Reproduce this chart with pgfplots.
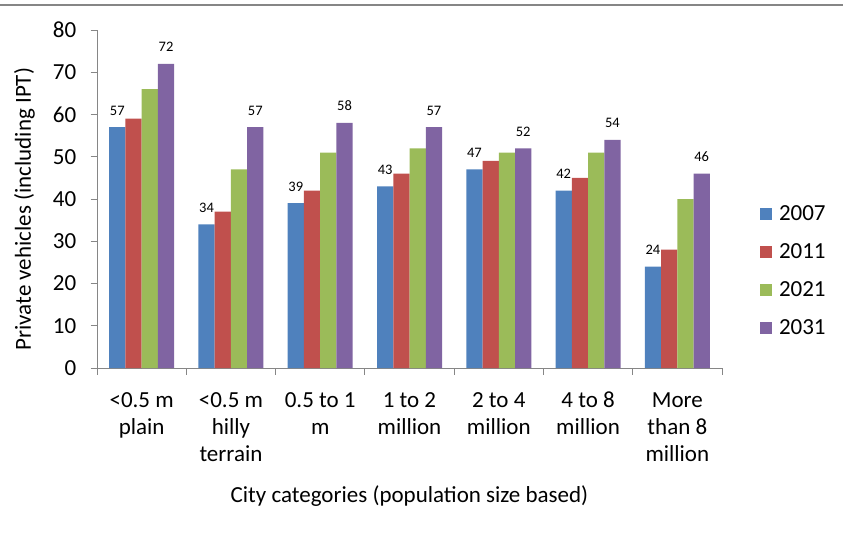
\documentclass[border=0pt]{standalone}
\usepackage{fontspec}
\setmainfont{Carlito}
\usepackage{pgfplots}
\usepackage{pgfplotstable}
\pgfplotsset{compat=1.18}

\definecolor{s07}{HTML}{4F81BD}
\definecolor{s11}{HTML}{C0504D}
\definecolor{s21}{HTML}{9BBB59}
\definecolor{s31}{HTML}{8064A2}
\definecolor{axisgray}{HTML}{868686}

\newcommand{\lblfont}{\fontsize{23}{27.3}\selectfont}
\newcommand{\valfont}{\fontsize{14.5}{17}\selectfont}

% Private vehicles (including IPT) by city category
\pgfplotstableread{
x y07 y11 y21 y31
0 57 59 66 72
1 34 37 47 57
2 39 42 51 58
3 43 46 52 57
4 47 49 51 52
5 42 45 51 54
6 24 28 40 46
}\vehicles

\pgfplotsset{
  /pgf/number format/assume math mode=true,
  sq legend/.style={legend image code/.code={\fill[##1] (0pt,-6pt) rectangle (12pt,6pt);}},
  vallabels/.style={nodes near coords,
    every node near coord/.append style={font=\valfont, anchor=base, yshift=12pt, inner sep=0pt, text=black}},
}

\begin{document}
\begin{tikzpicture}
\path[use as bounding box] (0,0) rectangle (843pt,533pt);
\draw[axisgray, line width=2.5pt] (0,528pt) -- (843pt,528pt);
\begin{axis}[
  at={(97pt,165pt)}, anchor=south west,
  scale only axis, width=625pt, height=338pt,
  ybar=0pt, bar width=16.25pt,
  xmin=-0.5, xmax=6.5, ymin=0, ymax=80,
  xtick={-0.5,0.5,...,6.5}, x tick label as interval,
  xticklabels={{\strut<0.5 m\\plain},{\strut<0.5 m\\hilly\\terrain},{\strut0.5 to 1\\m},{\strut1 to 2\\million},{\strut2 to 4\\million},{\strut4 to 8\\million},{\strut More\\than 8\\million}},
  ytick={0,10,...,80},
  axis x line*=bottom, axis y line*=left,
  axis line style={axisgray, line width=0.9pt},
  tick style={axisgray, line width=0.9pt},
  tick align=outside, major tick length=6.5pt,
  xticklabel style={font=\lblfont, align=center, anchor=north, inner sep=0pt, yshift=-13.5pt},
  yticklabel style={font=\lblfont, anchor=east, inner sep=0pt, xshift=-14pt},
  xlabel={City categories (population size based)},
  xlabel style={font=\lblfont, at={(axis description cs:0.5,-0.3994)}, anchor=base, inner sep=0pt},
  ylabel={Private vehicles (including IPT)},
  ylabel style={font=\lblfont, at={(axis description cs:-0.1056,0.470)}, anchor=base, inner sep=0pt},
  legend style={draw=none, fill=none, at={(axis description cs:1.0608,0.4802)}, anchor=north west,
    font=\lblfont, row sep=21.5pt, column sep=7pt, inner sep=0pt, outer sep=0pt, nodes={inner sep=0pt}},
  legend cell align=left,
]
\addplot[fill=s07, draw=none, vallabels, sq legend] table[x=x, y=y07] {\vehicles};
\addplot[fill=s11, draw=none, sq legend] table[x=x, y=y11] {\vehicles};
\addplot[fill=s21, draw=none, sq legend] table[x=x, y=y21] {\vehicles};
\addplot[fill=s31, draw=none, vallabels, sq legend] table[x=x, y=y31] {\vehicles};
\legend{2007,2011,2021,2031}
\end{axis}
\end{tikzpicture}
\end{document}
